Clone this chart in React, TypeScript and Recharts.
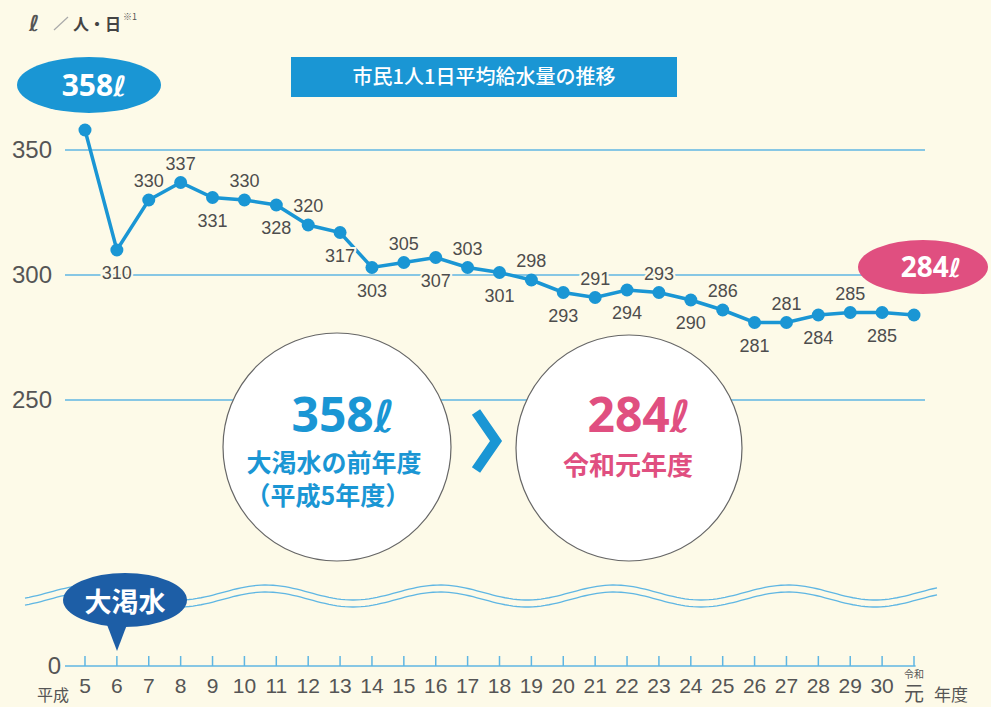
import React from "react";
import { LineChart, Line, XAxis, YAxis, ReferenceLine, LabelList } from "recharts";

// 年度 (平成5 ... 30, 令和元)
const years = ["5", "6", "7", "8", "9", "10", "11", "12", "13", "14", "15", "16", "17", "18", "19", "20", "21", "22", "23", "24", "25", "26", "27", "28", "29", "30", "元"];
// 市民1人1日平均給水量 (ℓ)
const usage = [358, 310, 330, 337, 331, 330, 328, 320, 317, 303, 305, 307, 303, 301, 298, 293, 291, 294, 293, 290, 286, 281, 281, 284, 285, 285, 284];
const gridValues = [250, 300, 350];

// axis is broken between 0 and 250, so the "0" tick sits at this value
const AXIS_BASE = 143.6;
const yTicks = [AXIS_BASE, 250, 300, 350];

// which points get their number below the line (first/last use bubbles)
const labelsBelow = new Set(["6", "9", "11", "13", "14", "16", "18", "20", "22", "24", "26", "28", "30"]);
const labelsHidden = new Set(["5", "元"]);

const rows = years.map((year, i) => ({ i, year, value: usage[i] }));

const BLUE = "#1a96d4";
const PINK = "#e04f80";
const BG = "#fdfae8";
const GRID = "#5fb6e3";
const TEXT = "#4d4d4d";
const NUM_FONT = "'Liberation Sans', Arial, sans-serif";
const JP_FONT = "'Noto Sans CJK JP', 'Noto Sans', sans-serif";

function PointLabel(props: any) {
  const { x, y, index } = props;
  const year = years[index];
  if (year === undefined || labelsHidden.has(year)) return null;
  const below = labelsBelow.has(year);
  return (
    <text
      x={x}
      y={below ? y + 29 : y - 13}
      textAnchor="middle"
      fontSize={18}
      fontFamily={NUM_FONT}
      fill={TEXT}
      stroke={BG}
      strokeWidth={4}
      paintOrder="stroke"
    >
      {usage[index]}
    </text>
  );
}

function YTick(props: any) {
  const { x, y, payload } = props;
  const isBase = payload.value === AXIS_BASE;
  return (
    <text x={isBase ? x + 9 : x} y={y + 8} textAnchor="end" fontSize={24} fontFamily={NUM_FONT} fill="#555">
      {isBase ? "0" : payload.value}
    </text>
  );
}

function XTick(props: any) {
  const { x, y, payload } = props;
  const year = years[payload.value];
  return (
    <g>
      <line x1={x} x2={x} y1={y - 10} y2={y} stroke={GRID} strokeWidth={1.5} />
      {year === "元" ? (
        <text textAnchor="middle" fontFamily={JP_FONT} fill="#555">
          <tspan x={x} y={y + 12} fontSize={10}>令和</tspan>
          <tspan x={x} y={y + 35} fontSize={20}>元</tspan>
        </text>
      ) : (
        <text x={x} y={y + 27} textAnchor="middle" fontSize={21} fontFamily={NUM_FONT} fill="#555">{year}</text>
      )}
    </g>
  );
}

function wavePath(offset: number) {
  const pts: string[] = [];
  for (let x = 25; x <= 938; x += 4) {
    const y = 592.5 + offset - 7.5 * Math.cos((2 * Math.PI * (x - 614)) / 174);
    pts.push(`${x},${y.toFixed(2)}`);
  }
  return "M" + pts.join(" L");
}

function Decorations() {
  return (
    <svg width={991} height={707} style={{ position: "absolute", left: 0, top: 0, pointerEvents: "none" }}>
      {/* unit */}
      <text x={29} y={31} fontSize={22} fontStyle="italic" fontWeight="bold" fontFamily="'DejaVu Sans', sans-serif" fill="#555">ℓ</text>
      <line x1={54} y1={30} x2={68} y2={17} stroke="#aaa" strokeWidth={1.2} />
      <text x={73} y={30} fontSize={16} fontWeight="bold" fontFamily={JP_FONT} fill="#444">人・日</text>
      <text x={123} y={20} fontSize={9} fontFamily={JP_FONT} fill="#555">※1</text>

      {/* title */}
      <rect x={291} y={57} width={386} height={40} fill={BLUE} />
      <text x={484} y={84} textAnchor="middle" fontSize={20} fontWeight={500} fontFamily={JP_FONT} fill="#fff">市民1人1日平均給水量の推移</text>

      {/* bubbles at both ends */}
      <ellipse cx={89} cy={85} rx={72} ry={28} fill={BLUE} />
      <text x={94} y={96} textAnchor="middle" fontSize={30} fontWeight="bold" fontFamily="'Noto Sans', sans-serif" fill="#fff">358<tspan fontStyle="italic" fontFamily="'DejaVu Sans', sans-serif" fontSize={28}>ℓ</tspan></text>
      <ellipse cx={923} cy={267} rx={65} ry={27} fill={PINK} />
      <text x={931} y={277} textAnchor="middle" fontSize={28} fontWeight="bold" fontFamily="'Noto Sans', sans-serif" fill="#fff">284<tspan fontStyle="italic" fontFamily="'DejaVu Sans', sans-serif" fontSize={26}>ℓ</tspan></text>

      {/* comparison circles */}
      <circle cx={337} cy={447} r={114} fill="#fff" stroke="#666" strokeWidth={1.2} />
      <text x={343} y={432} textAnchor="middle" fontSize={48} fontWeight="bold" fontFamily="'Noto Sans', sans-serif" fill={BLUE}>358<tspan fontStyle="italic" fontFamily="'DejaVu Sans', sans-serif" fontSize={44}>ℓ</tspan></text>
      <text x={334} y={472} textAnchor="middle" fontSize={25} fontWeight="bold" fontFamily={JP_FONT} fill={BLUE}>大渇水の前年度</text>
      <text x={328} y={505} textAnchor="middle" fontSize={25} fontWeight="bold" fontFamily={JP_FONT} fill={BLUE}>（平成5年度）</text>
      <polyline points="476,412 496,441 476,470" fill="none" stroke={BLUE} strokeWidth={10} />
      <circle cx={629} cy={448} r={113} fill="#fff" stroke="#666" strokeWidth={1.2} />
      <text x={639} y={432} textAnchor="middle" fontSize={48} fontWeight="bold" fontFamily="'Noto Sans', sans-serif" fill={PINK}>284<tspan fontStyle="italic" fontFamily="'DejaVu Sans', sans-serif" fontSize={44}>ℓ</tspan></text>
      <text x={628} y={475} textAnchor="middle" fontSize={26} fontWeight="bold" fontFamily={JP_FONT} fill={PINK}>令和元年度</text>

      {/* axis break */}
      <path d={wavePath(0)} fill="none" stroke={GRID} strokeWidth={1.3} />
      <path d={wavePath(7)} fill="none" stroke={GRID} strokeWidth={1.3} />

      {/* drought marker */}
      <ellipse cx={125} cy={600} rx={62} ry={27} fill="#1d5ea6" />
      <polygon points="106,622 128,622 117,651" fill="#1d5ea6" />
      <text x={125} y={612} textAnchor="middle" fontSize={27} fontWeight="bold" fontFamily={JP_FONT} fill="#fff">大渇水</text>

      {/* axis captions */}
      <text x={37} y={701} fontSize={16} fontFamily={JP_FONT} fill="#555">平成</text>
      <text x={934} y={701} fontSize={17} fontFamily={JP_FONT} fill="#555">年度</text>
    </svg>
  );
}

export default function App() {
  return (
    <div style={{ position: "relative", width: 991, height: 707, background: BG, overflow: "hidden" }}>
      <style>{`body{margin:0;background:${BG}}`}</style>
      <LineChart width={991} height={707} data={rows} margin={{ top: 25, right: 66, bottom: 0, left: 5 }}>
        <XAxis
          type="number"
          dataKey="i"
          domain={[-0.627, 26.345]}
          allowDataOverflow
          ticks={rows.map((r) => r.i)}
          interval={0}
          height={41}
          axisLine={false}
          tickLine={false}
          tickSize={0}
          tickMargin={0}
          tick={<XTick />}
        />
        <YAxis
          type="number"
          domain={[AXIS_BASE, 400]}
          allowDataOverflow
          ticks={yTicks}
          interval={0}
          width={60}
          axisLine={false}
          tickLine={false}
          tickMargin={7}
          tick={<YTick />}
        />
        {gridValues.map((v) => (
          <ReferenceLine key={v} y={v} stroke={GRID} strokeWidth={1.5} />
        ))}
        <ReferenceLine
          segment={[{ x: -0.627, y: AXIS_BASE }, { x: 26.05, y: AXIS_BASE }]}
          stroke={GRID}
          strokeWidth={1.5}
        />
        <Line
          type="linear"
          dataKey="value"
          stroke={BLUE}
          strokeWidth={3.5}
          dot={{ r: 6.5, fill: BLUE, stroke: "none" }}
          activeDot={false}
          isAnimationActive={false}
        >
          <LabelList dataKey="value" content={<PointLabel />} />
        </Line>
      </LineChart>
      <Decorations />
    </div>
  );
}
